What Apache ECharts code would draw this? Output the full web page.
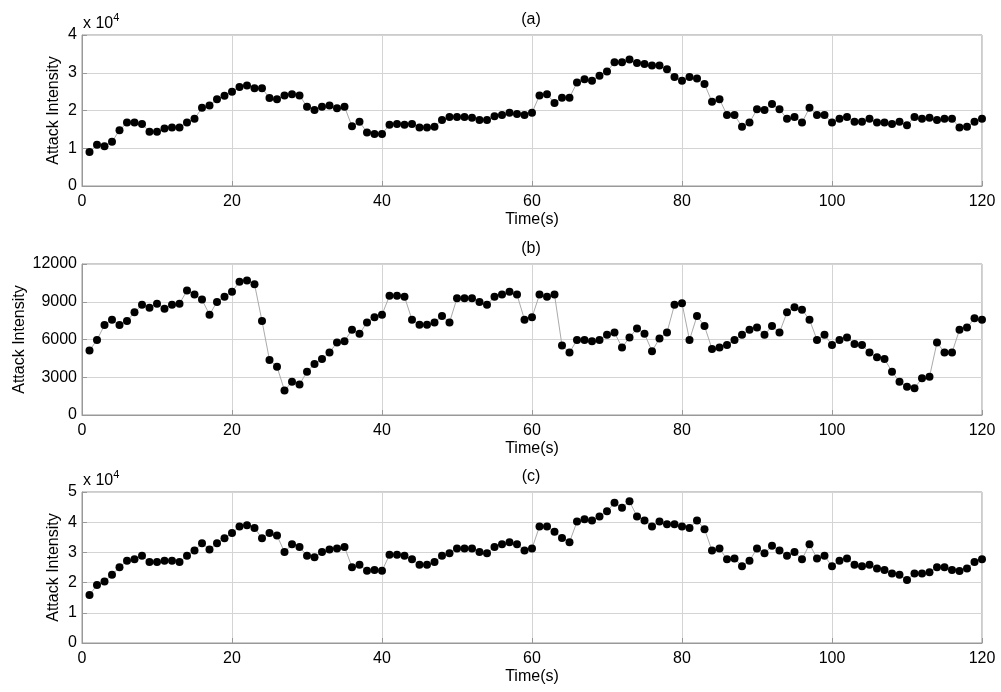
<!DOCTYPE html>
<html><head><meta charset="utf-8">
<script src="https://cdn.jsdelivr.net/npm/echarts@6/dist/echarts.min.js"></script>
<style>html,body{margin:0;padding:0;background:#fff}#c{width:1001px;height:692px}</style>
</head><body><div id="c"></div>
<script>
const panelTitles = ['(a)', '(b)', '(c)'];
const xTicks = [0, 20, 40, 60, 80, 100, 120];
const timeSec = Array.from({length: 120}, (_, i) => i + 1);
const seriesA = [9000,10900,10500,11700,14800,16800,16800,16400,14400,14400,15200,15500,15500,16800,17800,20700,21300,23000,23900,25000,26200,26600,25900,25900,23300,23000,24000,24300,24000,21000,20100,21000,21300,20600,21000,15800,17000,14200,13800,13800,16200,16400,16200,16400,15500,15500,15700,17500,18300,18300,18300,18100,17500,17500,18500,18800,19400,19100,18800,19400,24000,24300,22000,23400,23400,27400,28300,27900,29200,30300,32800,32800,33500,32600,32300,31900,31900,30900,28900,27900,28900,28500,27000,22300,23000,18800,18800,15700,16800,20300,20100,21700,20300,17800,18300,16800,20700,18800,18800,16800,17800,18300,17000,17000,17800,16800,16800,16400,17000,16100,18300,17800,18100,17500,17800,17800,15500,15700,17000,17800];
const seriesB = [5120,5970,7150,7570,7150,7470,8160,8770,8530,8850,8450,8770,8850,9890,9570,9170,7970,8990,9390,9790,10590,10690,10400,7470,4370,3840,1950,2640,2430,3440,4050,4450,4960,5760,5870,6770,6450,7360,7760,7970,9470,9470,9390,7570,7170,7170,7360,7870,7360,9280,9280,9280,8990,8770,9390,9570,9790,9570,7570,7760,9570,9390,9570,5520,4960,5970,5970,5870,5970,6370,6560,5360,6160,6880,6450,5070,6080,6560,8770,8880,5970,7870,7070,5250,5360,5570,5970,6370,6770,6960,6370,7070,6560,8160,8560,8370,7570,5970,6370,5570,5970,6160,5650,5570,4960,4590,4450,3440,2640,2240,2130,2930,3040,5760,4960,4960,6770,6960,7680,7570];
const seriesC = [15900,19200,20400,22600,25100,27200,27700,28900,26800,26800,27200,27200,26800,28900,30600,33000,31000,33000,34700,36400,38600,39000,38100,34700,36400,35600,30100,32700,31800,28900,28400,30100,31000,31300,31800,25100,25900,23900,24200,23900,29200,29200,28900,27700,25900,25900,26800,28900,29700,31300,31300,31300,30100,29700,31800,32700,33400,32700,30600,31300,38600,38600,36800,34800,33400,40200,41000,40600,41900,43600,46400,44800,46900,41900,40600,38600,40200,39300,39300,38600,38100,40600,37700,30600,31300,27700,28000,25400,27200,31300,29700,32200,30600,28900,30100,27700,32700,28000,28900,25400,27200,28000,25900,25400,25900,24700,24200,23000,22600,20900,23000,23000,23400,25100,25100,24200,23800,24700,26800,27700];
const yMaxes = [40000, 12000, 50000];
const yIntervals = [10000, 3000, 10000];
const scaled = [true, false, true];

const tops = [35, 264, 492];
const h = 151;
const font = 'Liberation Sans, Arial, sans-serif';
const datas = [seriesA, seriesB, seriesC];

const grids = [], xAxes = [], yAxes = [], series = [], titles = [];
for (let k = 0; k < 3; k++) {
  grids.push({left: 82, right: 19, top: tops[k], height: h, show: true, borderColor: '#999', borderWidth: 1, backgroundColor: '#fff'});
  xAxes.push({
    type: 'value', gridIndex: k, min: 0, max: 120, interval: 20,
    name: 'Time(s)', nameLocation: 'middle', nameGap: 26, nameMoveOverlap: false,
    nameTextStyle: {fontFamily: font, fontSize: 16, color: '#000'},
    axisLine: {show: true, lineStyle: {color: '#999'}},
    axisTick: {show: true, inside: true, length: 5, lineStyle: {color: '#999'}},
    axisLabel: {fontFamily: font, fontSize: 16, color: '#000', margin: 8},
    splitLine: {show: true, lineStyle: {color: '#d4d4d4', width: 1}}
  });
  yAxes.push({
    type: 'value', gridIndex: k, min: 0, max: yMaxes[k], interval: yIntervals[k],
    name: 'Attack Intensity', nameLocation: 'middle', nameGap: scaled[k] ? 20 : 54, nameMoveOverlap: false,
    nameTextStyle: {fontFamily: font, fontSize: 16, color: '#000'},
    axisLine: {show: true, lineStyle: {color: '#999'}},
    axisTick: {show: true, inside: true, length: 5, lineStyle: {color: '#999'}},
    axisLabel: {fontFamily: font, fontSize: 16, color: '#000', margin: 5,
      formatter: scaled[k] ? (v => String(v / 10000)) : (v => String(v))},
    splitLine: {show: true, lineStyle: {color: '#d4d4d4', width: 1}}
  });
  series.push({
    type: 'line', xAxisIndex: k, yAxisIndex: k,
    data: timeSec.map((t, i) => [t, datas[k][i]]),
    symbol: 'circle', symbolSize: 8,
    itemStyle: {color: '#000'},
    lineStyle: {color: '#aaa', width: 1},
    animation: false
  });
  titles.push({text: panelTitles[k], left: 526, textAlign: 'center', top: tops[k] - 28,
    textStyle: {fontFamily: font, fontSize: 16, fontWeight: 'normal', color: '#000'}});
  if (scaled[k]) {
    titles.push({text: 'x 10{s|4}', left: 78, top: tops[k] - 28,
      textStyle: {fontFamily: font, fontSize: 16, fontWeight: 'normal', color: '#000',
        rich: {s: {fontFamily: font, fontSize: 11, verticalAlign: 'top', padding: [0,0,12,0], color: '#000'}}}});
  }
}

const chart = echarts.init(document.getElementById('c'), null, {renderer: 'canvas'});
chart.setOption({
  backgroundColor: '#fff', animation: false,
  title: titles, grid: grids, xAxis: xAxes, yAxis: yAxes, series: series
});
</script></body></html>
